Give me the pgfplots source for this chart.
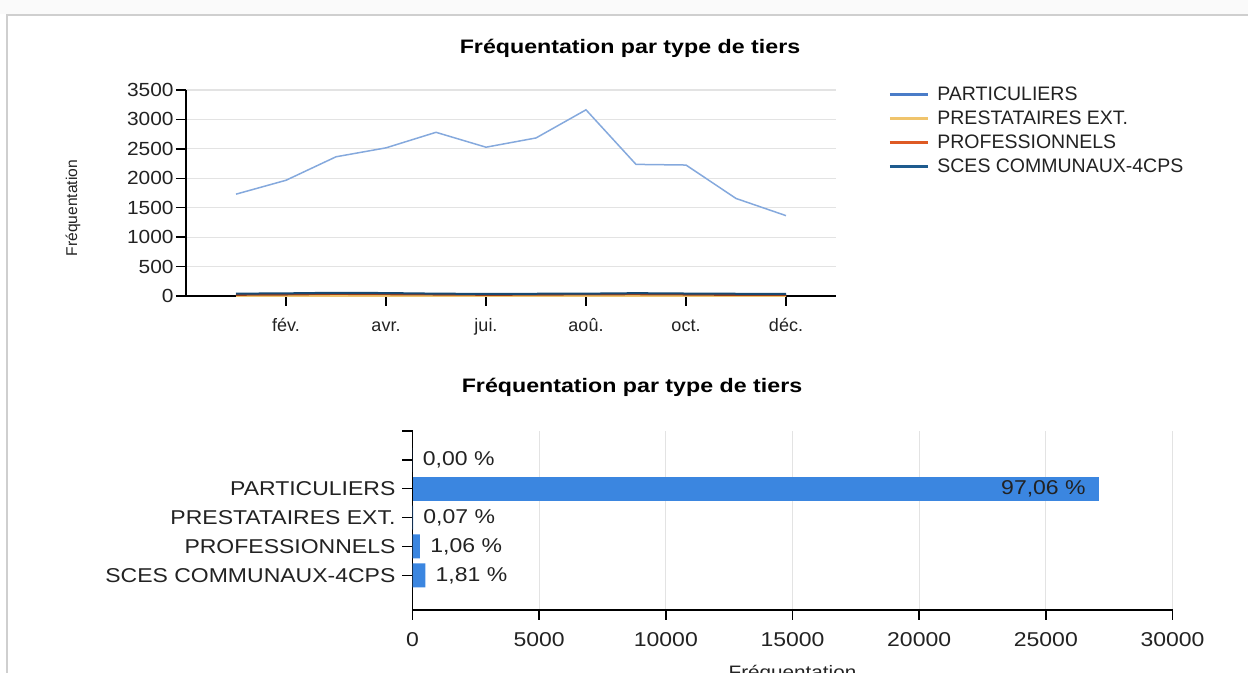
\documentclass[border=0pt]{standalone}
\usepackage{fontspec}
\setmainfont{Liberation Sans}
\newfontfamily\stretchA[FakeStretch=1.1]{Liberation Sans}
\newfontfamily\stretchB[FakeStretch=1.15]{Liberation Sans}
\newfontfamily\titlefont[FakeStretch=1.19]{Liberation Sans}
\usepackage{pgfplots}
\usepackage{pgfplotstable}
\pgfplotsset{compat=1.18}

\definecolor{cPartLine}{HTML}{85A9DD}
\definecolor{cPart}{HTML}{4A7CC8}
\definecolor{cPrest}{HTML}{F0C46C}
\definecolor{cProf}{HTML}{DE5A24}
\definecolor{cSces}{HTML}{1E5B8E}
\definecolor{cBar}{HTML}{3B86E0}
\definecolor{cGrid}{HTML}{E3E3E3}
\definecolor{cTxt}{HTML}{222222}
\definecolor{cFrame}{HTML}{CFCFCF}

% monthly frequentation per type de tiers
\pgfplotstableread{
m part prest prof sces
1  1730 0 20 40
2  1966 2 25 45
3  2365 3 35 55
4  2517 2 30 50
5  2781 1 25 40
6  2528 2 20 35
7  2685 1 22 38
8  3163 2 28 40
9  2236 3 30 48
10 2225 2 25 42
11 1657 1 18 38
12 1365 1 18 34
}\monthly

\begin{document}
\begin{tikzpicture}
\clip (0,0) rectangle (624pt,336.5pt);
\fill[black!2] (0,329.5pt) rectangle (624pt,336.5pt);
\draw[cFrame, line width=1pt] (3.5pt,0) -- (3.5pt,329pt) -- (624pt,329pt);

% titles
\node[anchor=base, font=\fontsize{9.75}{11}\selectfont\titlefont\bfseries, text=black] at (315pt,309.5pt) {Fréquentation par type de tiers};
\node[anchor=base, font=\fontsize{9.75}{11}\selectfont\titlefont\bfseries, text=black] at (316pt,140pt) {Fréquentation par type de tiers};
\node[rotate=90, font=\fontsize{7.8}{9}\selectfont, text=cTxt] at (36.5pt,232.5pt) {Fréquentation};
\node[anchor=base, font=\fontsize{9}{11}\selectfont\stretchB, text=cTxt] at (396.25pt,-3pt) {Fréquentation};

% ---------------- line chart ----------------
\begin{axis}[
  at={(93pt,188.5pt)}, anchor=south west,
  width=325pt, height=103pt, scale only axis,
  xmin=0, xmax=13, ymin=0, ymax=3500,
  axis lines*=left,
  axis line style={black, line width=0.7pt},
  tick style={black, line width=0.7pt},
  tick align=outside, major tick length=5pt,
  xtick={2,4,6,8,10,12},
  xticklabels={fév.,avr.,jui.,aoû.,oct.,déc.},
  ytick={0,500,...,3500},
  ymajorgrids, major grid style={cGrid, line width=0.6pt},
  scaled y ticks=false,
  /pgf/number format/1000 sep={},
  /pgf/number format/assume math mode=true,
  yticklabel style={font=\fontsize{9.5}{11}\selectfont\stretchA, text=cTxt, inner sep=1pt},
  xticklabel style={font=\fontsize{9}{11}\selectfont, text=cTxt, anchor=north,
    text height=7pt, text depth=1.5pt, yshift=-2pt},
  clip=false,
  legend cell align=left,
  legend image code/.code={\draw[#1, line width=1.5pt] (0pt,0pt) -- (19pt,0pt);},
  legend style={at={(axis description cs:1,1)}, anchor=north west,
    xshift=26pt, yshift=2.5pt, draw=none, fill=none,
    font=\fontsize{9.75}{11}\selectfont, text=cTxt,
    inner sep=0pt, row sep=2.5pt,
    nodes={inner sep=0pt, text height=7.5pt, text depth=2pt},
    /tikz/every odd column/.append style={column sep=4pt}},
]
\addplot[cPartLine, line width=0.75pt, forget plot] table[x=m, y=part] {\monthly};
\addplot[cPrest, line width=1pt, forget plot] table[x=m, y=prest] {\monthly};
\addplot[cProf!70!black, line width=1pt, forget plot] table[x=m, y=prof] {\monthly};
\addplot[cSces!80!black, line width=1pt, forget plot] table[x=m, y=sces] {\monthly};
\addlegendimage{cPart}
\addlegendentry{PARTICULIERS}
\addlegendimage{cPrest}
\addlegendentry{PRESTATAIRES EXT.}
\addlegendimage{cProf}
\addlegendentry{PROFESSIONNELS}
\addlegendimage{cSces}
\addlegendentry{SCES COMMUNAUX-4CPS}
\end{axis}

% ---------------- bar chart ----------------
\begin{axis}[
  at={(206.25pt,31.5pt)}, anchor=south west,
  width=380pt, height=89.5pt, scale only axis,
  xmin=0, xmax=30000, ymin=-1.2, ymax=5,
  axis lines*=left,
  axis line style={black, line width=0.7pt},
  tick style={black, line width=0.7pt},
  tick align=outside, major tick length=5pt,
  xtick={0,5000,...,30000},
  ytick={0,1,2,3,4,5},
  yticklabels={SCES COMMUNAUX-4CPS,PROFESSIONNELS,PRESTATAIRES EXT.,PARTICULIERS,{},{}},
  xmajorgrids, major grid style={cGrid, line width=0.6pt},
  scaled x ticks=false,
  /pgf/number format/1000 sep={},
  /pgf/number format/assume math mode=true,
  yticklabel style={font=\fontsize{10}{12}\selectfont\stretchB, text=cTxt},
  xticklabel style={font=\fontsize{10}{12}\selectfont\stretchB, text=cTxt, yshift=-2.5pt},
  clip=false,
]
\addplot[xbar, bar shift=0pt, bar width=12pt, fill=cBar, draw=none,
  nodes near coords, point meta=explicit symbolic,
  every node near coord/.append style={anchor=west, xshift=5pt, inner sep=0pt,
    font=\fontsize{10}{12}\selectfont\stretchB, text=cTxt}]
  coordinates {(505,0) [1,81 \%] (296,1) [1,06 \%] (20,2) [0,07 \%] (0,4) [0,00 \%]};
\addplot[xbar, bar shift=0pt, bar width=12pt, fill=cBar, draw=none,
  nodes near coords, point meta=explicit symbolic,
  every node near coord/.append style={anchor=east, xshift=-6.5pt, inner sep=0pt,
    font=\fontsize{10}{12}\selectfont\stretchB, text=cTxt}]
  coordinates {(27100,3) [97,06 \%]};
\end{axis}
\end{tikzpicture}
\end{document}
